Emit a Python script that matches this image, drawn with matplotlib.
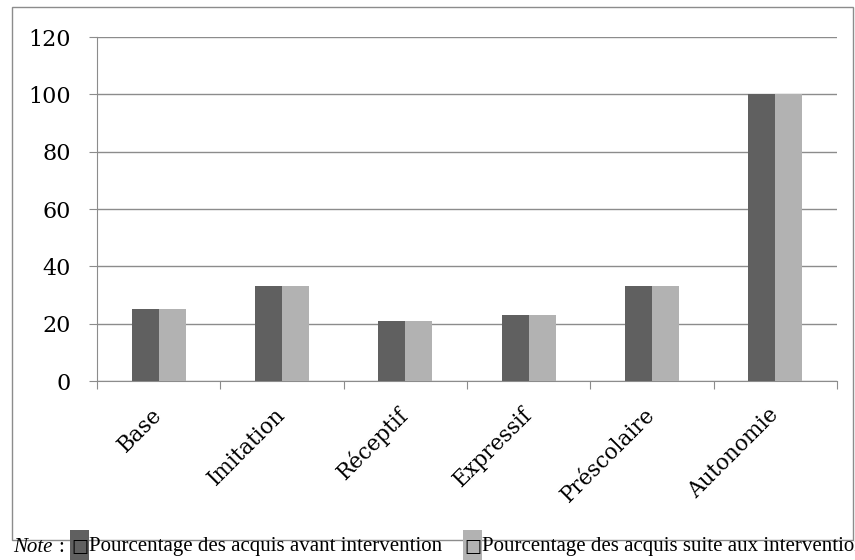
import matplotlib.pyplot as plt
import matplotlib.patches as mpatches
import numpy as np

categories = ["Base", "Imitation", "Réceptif", "Expressif", "Préscolaire", "Autonomie"]
avant = [25, 33, 21, 23, 33, 100]
suite = [25, 33, 21, 23, 33, 100]
series_labels = ["Pourcentage des acquis avant intervention",
                 "Pourcentage des acquis suite aux interventions"]
yticks = [0, 20, 40, 60, 80, 100, 120]

DARK = "#606060"
LIGHT = "#b2b2b2"
GRID = "#8c8c8c"

W, H = 855, 560
fig = plt.figure(figsize=(W / 100, H / 100), dpi=100)

# outer chart frame
fig.patches.append(mpatches.Rectangle((12 / W, 1 - 540 / H), 841 / W, 533 / H,
                                      transform=fig.transFigure, fill=False,
                                      edgecolor="#8c8c8c", linewidth=1))

ax = fig.add_axes([97 / W, 1 - 381 / H, 740 / W, 344 / H])

x = np.arange(len(categories))
bw = 0.22
ax.bar(x - bw / 2, avant, bw, color=DARK, zorder=3)
ax.bar(x + bw / 2, suite, bw, color=LIGHT, zorder=3)

ax.set_xlim(-0.5, len(categories) - 0.5)
ax.set_ylim(0, 120)
ax.set_yticks(yticks)
ax.set_yticklabels([str(v) for v in yticks], fontfamily="DejaVu Serif", fontsize=16)
ax.yaxis.grid(True, color=GRID, linewidth=1, zorder=0)
ax.tick_params(axis="y", length=6, color=GRID, pad=13)

# category boundary ticks, labels centred under groups
ax.set_xticks(np.arange(-0.5, len(categories)), minor=False)
ax.set_xticklabels([])
ax.set_xticks(x, minor=True)
ax.set_xticklabels(categories, minor=True, rotation=45, ha="right", va="center",
                   rotation_mode="anchor", fontfamily="DejaVu Serif", fontsize=15.5)
ax.tick_params(axis="x", which="major", length=6, color=GRID)
ax.tick_params(axis="x", which="minor", length=0, pad=22)

for side in ["top", "right"]:
    ax.spines[side].set_visible(False)
ax.spines["left"].set_color(GRID)
ax.spines["bottom"].set_color(GRID)

# note / legend line under the frame
ty = 1 - 547 / H
fs = 15
fig.text(13 / W, ty, "Note", fontstyle="italic", fontfamily="Liberation Serif",
         fontsize=fs, va="center")
fig.text(58 / W, ty, ":", fontfamily="Liberation Serif", fontsize=fs, va="center")
for x0, col, lab in [(70, DARK, series_labels[0]), (463, LIGHT, series_labels[1])]:
    fig.patches.append(mpatches.Rectangle((x0 / W, 0), 19 / W, 30 / H,
                                          transform=fig.transFigure,
                                          facecolor=col, edgecolor="none"))
    fig.text((x0 + 9.5) / W, ty, "\u25a1", fontfamily="DejaVu Sans", fontsize=13,
             ha="center", va="center")
    fig.text((x0 + 19) / W, ty, lab, fontfamily="Liberation Serif",
             fontsize=fs, va="center")

fig.savefig("out.png", dpi=100)
